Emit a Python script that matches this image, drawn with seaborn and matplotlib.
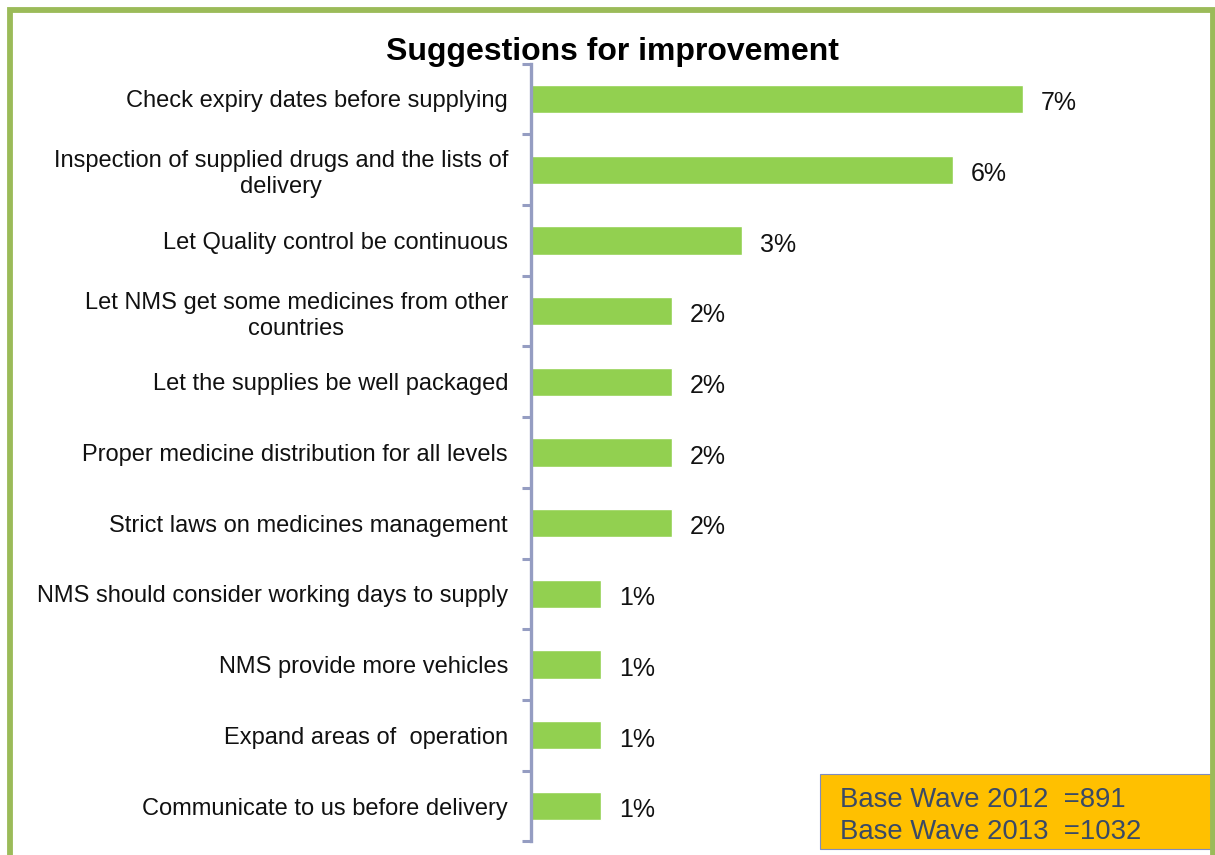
import numpy as np
import pandas as pd
import matplotlib
matplotlib.use("Agg")
import matplotlib.pyplot as plt
from matplotlib.patches import Rectangle
import seaborn as sns

# Survey responses: share of respondents per suggestion (%)
suggestions = [
    "Check expiry dates before supplying",
    "Inspection of supplied drugs and the lists of\ndelivery",
    "Let Quality control be continuous",
    "Let NMS get some medicines from other\ncountries",
    "Let the supplies be well packaged",
    "Proper medicine distribution for all levels",
    "Strict laws on medicines management",
    "NMS should consider working days to supply",
    "NMS provide more vehicles",
    "Expand areas of  operation",
    "Communicate to us before delivery",
]
shares = [7, 6, 3, 2, 2, 2, 2, 1, 1, 1, 1]
base_notes = ["Base Wave 2012  =891", "Base Wave 2013  =1032"]

BAR_GREEN = "#92D050"
FRAME_GREEN = "#9BBB59"
AXIS_BLUE = "#959DC2"
BOX_ORANGE = "#FFC000"
NOTE_TEXT = "#3A4A66"

sns.set_theme(style="white")
plt.rcParams["font.family"] = ["Liberation Sans", "DejaVu Sans"]

W, H = 1215, 855
fig = plt.figure(figsize=(W / 100, H / 100), dpi=100)
fig.patch.set_facecolor("white")

# axes placed in pixel terms
ax_left, ax_right = 531, 1190
ax_top, ax_bottom = 63.6, 841.4
ax = fig.add_axes([ax_left / W, 1 - ax_bottom / H,
                   (ax_right - ax_left) / W, (ax_bottom - ax_top) / H])

df = pd.DataFrame({"suggestion": suggestions, "share": shares})
sns.barplot(data=df, x="share", y="suggestion", orient="h", color=BAR_GREEN,
            saturation=1, width=0.4, ax=ax)

px_per_pct = 70.3
ax.set_xlim(0, (ax_right - ax_left) / px_per_pct)
ax.set_ylim(len(suggestions) - 0.5, -0.5)

ax.set_xlabel("")
ax.set_ylabel("")
ax.xaxis.set_visible(False)
for side in ("top", "right", "bottom"):
    ax.spines[side].set_visible(False)
ax.spines["left"].set_color(AXIS_BLUE)
ax.spines["left"].set_linewidth(2.4)

ax.set_yticks(np.arange(len(suggestions)))
ax.set_yticklabels(suggestions, fontsize=17, color="#111111",
                   multialignment="center", linespacing=1.25)
ax.set_yticks(np.arange(-0.5, len(suggestions), 1.0), minor=True)
ax.tick_params(axis="y", which="major", left=True, length=0, pad=16.5)
ax.tick_params(axis="y", which="minor", left=True, length=6.5, width=2.2,
               color=AXIS_BLUE, direction="out")

# value labels, nudged slightly below the bar centre
value_labels = ax.bar_label(ax.containers[0], labels=[f"{v}%" for v in shares],
                            padding=13, fontsize=18, color="#111111")
for t in value_labels:
    t.xyann = (13, -3)

fig.text(0.504, 1 - 60 / H, "Suggestions for improvement", ha="center",
         va="baseline", fontsize=23, fontweight="bold", color="black")

# sample-size note box
fig.patches.append(Rectangle((820 / W, 1 - 849 / H), (1213 - 820) / W, 75 / H,
                             transform=fig.transFigure, facecolor=BOX_ORANGE,
                             edgecolor="#7F8CC0", linewidth=0.8, zorder=5))
for i, note in enumerate(base_notes):
    fig.text(840 / W, 1 - (800 + 32 * i) / H, note, ha="left", va="center",
             fontsize=19.8, color=NOTE_TEXT, zorder=6)

# outer frame
fig.patches.append(Rectangle((9.5 / W, -0.05), (1212.5 - 9.5) / W, 1.05 - 10 / H,
                             transform=fig.transFigure, fill=False,
                             edgecolor=FRAME_GREEN, linewidth=4.2, zorder=10))

fig.savefig("out.png", dpi=100)
